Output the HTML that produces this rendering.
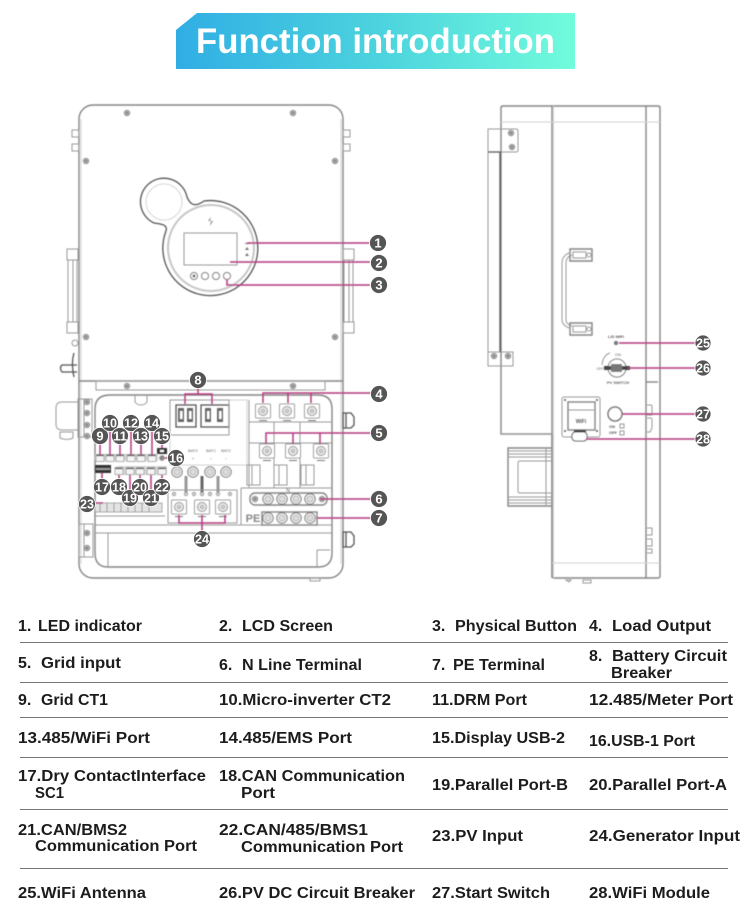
<!DOCTYPE html>
<html><head><meta charset="utf-8"><title>Function introduction</title>
<style>
html,body{margin:0;padding:0;background:#fff}
svg{display:block}
text{font-family:"Liberation Sans",sans-serif}
.t text{font-size:16px;font-weight:bold;fill:#1c1c1c}
.g{fill:none;stroke:#9a9a9a;stroke-width:1}
.l{fill:none;stroke:#858585;stroke-width:1.4}
.k{fill:none;stroke:#555;stroke-width:1.3}
.d{fill:none;stroke:#d0d0d0;stroke-width:1}
.p{fill:none;stroke:#b5387f;stroke-width:1.5}
.b circle{fill:#555;stroke:#fff;stroke-width:.8}
.b text{fill:#fff;font-size:13px;font-weight:bold;text-anchor:middle}
.m text{fill:#666;font-size:4px;text-anchor:middle}
</style></head><body>
<svg width="750" height="905" viewBox="0 0 750 905" xmlns="http://www.w3.org/2000/svg">
<defs>
<linearGradient id="h" x1="0" x2="1" y1="0" y2="0"><stop offset="0" stop-color="#30aee4"/><stop offset=".5" stop-color="#4bd2de"/><stop offset="1" stop-color="#71fcdc"/></linearGradient>
<filter id="s" x="-2%" y="-2%" width="104%" height="104%"><feGaussianBlur stdDeviation=".5"/></filter>
<g id="bolt"><circle r="2.8" fill="#aaa" stroke="#888" stroke-width=".7"/><circle r="1" fill="#777"/></g>
<g id="lug"><rect x="-7.5" y="-7" width="15" height="14" rx="1" fill="#fff" stroke="#999"/><circle r="4.500" fill="#eee" stroke="#888"/><circle r="2" fill="#ccc" stroke="#999" stroke-width=".5"/><path d="M-4 9.500H4" stroke="#777" stroke-width="1"/></g>
<g id="term"><circle r="5.200" fill="#f2f2f2" stroke="#777"/><circle r="3" fill="#ddd" stroke="#999" stroke-width=".6"/></g>
<g id="port"><rect x="-4" y="-3.500" width="8" height="7" fill="#f4f4f4" stroke="#999" stroke-width=".8"/><path d="M-3.500-2.500H3.500" stroke="#444" stroke-width="1.200"/></g>
</defs>

<polygon points="197,13 575,13 575,69 176,69 176,30" fill="url(#h)"/>
<text x="196" y="53" font-size="35" font-weight="bold" fill="#fff" textLength="359" lengthAdjust="spacingAndGlyphs">Function introduction</text>

<g filter="url(#s)">
<!-- FRONT VIEW -->
<rect x="79" y="105" width="264" height="473" rx="14" fill="#fff" class="l"/>
<path class="d" d="M81 119V564M341 119V564"/>
<path class="l" d="M79 381H343"/>
<rect class="g" x="96" y="381" width="229" height="9"/>
<use href="#bolt" x="127" y="113"/><use href="#bolt" x="293" y="113"/>
<use href="#bolt" x="86" y="161"/><use href="#bolt" x="335" y="161"/>
<use href="#bolt" x="86" y="337"/><use href="#bolt" x="335" y="337"/>
<use href="#bolt" x="127" y="386"/><use href="#bolt" x="293" y="386"/>
<path class="g" d="M72 130h7v7h-7zM72 144h7v7h-7zM343 130h7v7h-7zM343 144h7v7h-7z"/>
<!-- side handles -->
<path class="g" d="M67 249h11v11h-11zM67 322h11v11h-11zM68 260v62M73 260v62M77 260v62"/>
<path class="g" d="M343 249h11v11h-11zM343 322h11v11h-11zM344 260v62M349 260v62M353 260v62"/>
<path class="k" d="M77 365H62q-3 3 0 7H77M74 353q-3 10 0 24"/>
<circle class="g" cx="75" cy="343" r="3"/>
<!-- display housing -->
<path class="k" fill="#fff" d="M187 197 C191 207 197 206 204 201 A47.500 47.500 0 1 1 166 231 C168 224 160 224 154 223 A23.500 23.500 0 1 1 187 197Z"/>
<circle cx="211" cy="248" r="43" fill="none" stroke="#c6c6c6" stroke-width="2"/>
<circle cx="164" cy="202" r="18" fill="none" stroke="#aaa" stroke-width=".8" stroke-dasharray="1.500 1"/>
<rect class="g" x="184" y="233" width="53" height="32"/>
<path d="M211 217l-3 4h3l-1 5 3-5h-3z" fill="#888"/>
<g fill="#fff" stroke="#777"><circle cx="194" cy="276" r="3.500"/><circle cx="205" cy="276" r="3.500"/><circle cx="216" cy="276" r="3.500"/><circle cx="227" cy="276" r="3.500"/></g>
<circle cx="194" cy="276" r="1.500" fill="#666"/>
<path d="M245 243h4v1h-4zM245 250l2-3 2 3zM245 256l2-3 2 3z" fill="#777"/>

<!-- LOWER PANEL -->
<path class="l" d="M110 395H318Q332 395 332 409V553Q332 567 318 567H108Q95 567 95 553V409Q95 395 110 395Z"/>
<path class="g" d="M78 402H62q-6 0-6 6V424q0 6 6 6H78M60 432h13v6q-6 3-13 0zM78 399h14v38h-14zM84 399v38"/>
<use href="#bolt" x="87" y="402"/><use href="#bolt" x="87" y="413"/><use href="#bolt" x="87" y="425"/><use href="#bolt" x="87" y="436"/>
<path class="g" d="M79 524h14v33h-14zM84 524v33"/>
<use href="#bolt" x="87" y="533"/><use href="#bolt" x="87" y="548"/>
<path class="k" d="M343 413h8l3 4v8l-3 3h-8zM343 532h8l3 4v8l-3 3h-8zM346 413v15M346 532v15"/>
<path class="g" d="M95 525H332M95 533H332M108 533V567M317 550h13M317 550v17"/>
<rect class="g" x="310" y="578" width="10" height="3"/>
<path class="g" d="M135 395v7q2 3 6 3t6-3v-7"/>
<!-- battery breakers -->
<rect x="170" y="400" width="77" height="65" fill="#fff" class="d"/>
<rect class="k" x="176" y="405" width="20" height="22"/><rect class="k" x="201" y="405" width="28" height="22"/>
<path class="g" d="M170 400H229V435H170z"/>
<g fill="#666"><rect x="178" y="408" width="6" height="14"/><rect x="187" y="408" width="6" height="14"/><rect x="205" y="408" width="6" height="14"/><rect x="217" y="408" width="6" height="14"/></g>
<g fill="#fff"><rect x="180" y="411" width="2.500" height="8"/><rect x="189" y="411" width="2.500" height="8"/><rect x="207" y="411" width="2.500" height="8"/><rect x="219" y="411" width="2.500" height="8"/></g>
<g class="m"><text x="193" y="452">BAT2</text><text x="211" y="452">BAT1</text><text x="226" y="452">BAT2</text><text x="193" y="460" font-size="8">+</text><text x="211" y="460" font-size="8">−</text><text x="226" y="460" font-size="8">−</text></g>
<!-- load & grid sections -->
<path class="g" d="M249 400V488M249 422H332M249 443H332M274 422v66M300 422v66M247 465h13v20h-13zM274 465h13v20h-13zM301 465h13v20h-13zM252 465v20M279 465v20M306 465v20"/>
<use href="#lug" x="263" y="411"/><use href="#lug" x="287" y="411"/><use href="#lug" x="312" y="411"/>
<use href="#lug" x="267" y="451"/><use href="#lug" x="293" y="451"/><use href="#lug" x="321" y="451"/>
<!-- N / PE -->
<path class="g" d="M241 488H332M241 488V525"/>
<rect class="l" x="250" y="493" width="77" height="12" rx="5"/>
<rect class="l" x="262" y="512" width="55" height="13"/>
<use href="#bolt" x="255" y="499"/><use href="#bolt" x="322" y="499"/>
<use href="#term" x="268" y="499"/><use href="#term" x="282" y="499"/><use href="#term" x="296" y="499"/><use href="#term" x="310" y="499"/>
<use href="#term" x="268" y="518"/><use href="#term" x="282" y="518"/><use href="#term" x="296" y="518"/><use href="#term" x="310" y="518"/>
<text x="253" y="522" font-size="11" font-weight="bold" fill="#888" text-anchor="middle">PE</text>
<text x="288" y="492" font-size="5" fill="#666" text-anchor="middle">N</text>
<!-- generator -->
<use href="#term" x="177" y="472"/><use href="#term" x="193" y="472"/><use href="#term" x="210" y="472"/><use href="#term" x="226" y="472"/>
<path d="M186 476v17M218 476v17" stroke="#999" stroke-width="3" fill="none"/>
<path d="M202 476v17" stroke="#666" stroke-width="3" fill="none"/>
<rect class="g" x="168" y="490" width="69" height="33"/>
<g fill="#ccc" stroke="#888" stroke-width=".6"><circle cx="174" cy="494" r="1.800"/><circle cx="186" cy="494" r="1.800"/><circle cx="194" cy="494" r="1.800"/><circle cx="202" cy="494" r="1.800"/><circle cx="210" cy="494" r="1.800"/><circle cx="218" cy="494" r="1.800"/><circle cx="230" cy="494" r="1.800"/></g>
<use href="#lug" x="179" y="507"/><use href="#lug" x="202" y="507"/><use href="#lug" x="223" y="507"/>
<!-- ports -->
<rect x="95" y="454" width="63" height="7" fill="#d8d8d8"/>
<rect x="117" y="466" width="50" height="9" fill="#d8d8d8"/>
<use href="#port" x="100" y="458"/><use href="#port" x="110" y="458"/><use href="#port" x="120" y="458"/><use href="#port" x="131" y="458"/><use href="#port" x="141" y="458"/><use href="#port" x="152" y="458"/>
<use href="#port" x="119" y="471"/><use href="#port" x="130" y="471"/><use href="#port" x="140" y="471"/><use href="#port" x="151" y="471"/><use href="#port" x="162" y="471"/>
<rect x="95" y="465" width="16" height="8" fill="#333"/><rect x="96" y="468" width="14" height="2" fill="#999"/>
<rect x="95" y="503" width="67" height="9" fill="#e4e4e4" stroke="#888" stroke-width=".7"/>
<path class="g" d="M100 503v9M107 503v9M114 503v9M121 503v9M128 503v9M135 503v9M142 503v9M149 503v9M95 516H165"/>
<rect x="157" y="448" width="10" height="6" fill="#333"/>
<rect x="160" y="450" width="4" height="2" fill="#fff"/>
<circle cx="162" cy="458" r="2.800" fill="#888"/>

<!-- SIDE VIEW -->
<path class="l" d="M501 434V108q0-2 2-2H658q2 0 2 2V576q0 2-2 2H554q-2 0-2-2V434Z"/>
<path class="l" d="M552 106V578M646 106V578"/>
<path class="d" d="M553.500 106V578M501 122H660M552 563H660"/>
<path class="g" d="M501 434h51"/>
<path class="g" d="M501 129H488V366H513V352H501M501 129h15q2 0 2 2v19q0 2-2 2H488M488 352h13"/>
<path class="k" d="M500 152V352M488 152h13"/>
<use href="#bolt" x="511" y="133"/><use href="#bolt" x="512" y="147"/><use href="#bolt" x="494" y="356"/><use href="#bolt" x="508" y="356"/>
<!-- side handle -->
<path class="g" d="M569 253q-7 3-7 10V320q0 5 7 8M572 255q-6 2-6 8V320q0 4 6 6"/>
<path class="l" d="M570 249h22v12h-22zM570 323h22v12h-22z"/>
<path class="g" d="M573 252h13v6h-13zM573 326h13v6h-13z"/>
<circle class="g" cx="589" cy="255" r="2"/><circle class="g" cx="589" cy="329" r="2"/>
<!-- block -->
<path class="l" d="M552 448H508V506H552"/>
<path class="g" d="M508 451H552M508 454H552M508 457H552M508 497H552M508 500H552M508 503H552M552 461H520q-2 0-2 2V491q0 2 2 2H552M546 448v58"/>
<!-- clips -->
<path class="l" d="M646 382h12"/>
<path class="g" d="M647 405h4q1 0 1 2v8h-5M647 418h4q1 0 1 2v8l-2 4h-3M647 528h5v7h-5M647 539h5v7h-5M647 549h5v4h-5"/>
<!-- controls -->
<text x="616" y="338" font-size="4" fill="#555" text-anchor="middle" font-weight="bold">L/D WiFi</text>
<circle cx="616" cy="343" r="1.700" fill="#888" stroke="#555" stroke-width=".6"/>
<path class="g" d="M602 365q1-10 8-12"/>
<circle cx="617" cy="368" r="9" fill="#fff" stroke="#777"/>
<rect x="604" y="366" width="26" height="4" fill="#444"/>
<rect x="611" y="364" width="11" height="8" fill="#777"/>
<text x="618" y="356" font-size="4" fill="#666" text-anchor="middle">ON</text>
<text x="600" y="370" font-size="3.500" fill="#666" text-anchor="middle">OFF</text>
<text x="618" y="384" font-size="4" fill="#666" text-anchor="middle" font-weight="bold">PV SWITCH</text>
<rect class="g" x="562" y="397" width="38" height="40" rx="2"/>
<rect class="l" x="568" y="402" width="27" height="28"/>
<path class="g" d="M568 410H595"/>
<circle cx="565" cy="400" r="1" fill="#555"/><circle cx="597" cy="400" r="1" fill="#555"/><circle cx="565" cy="431" r="1" fill="#555"/><circle cx="597" cy="431" r="1" fill="#555"/>
<text x="581" y="423" font-size="5" font-weight="bold" fill="#555" text-anchor="middle">WiFi</text>
<rect x="572" y="432" width="15" height="9" rx="3.500" fill="#fff" stroke="#555"/>
<path d="M574 431h12" stroke="#333" stroke-width="1.500"/>
<circle cx="615" cy="414" r="7" fill="#fff" stroke="#777" stroke-width="1.500"/>
<text x="612" y="428" font-size="4" fill="#555" text-anchor="middle" font-weight="bold">ON</text>
<text x="613" y="434" font-size="4" fill="#555" text-anchor="middle" font-weight="bold">OFF</text>
<path class="g" d="M620 424h4v4h-4zM620 431h4v4h-4z"/>
<path class="g" d="M566 580h5l-2 2zM583 580h8v3h-8z"/>

<!-- CONNECTORS -->
<path class="p" d="M247 243H370M230 262H370M227 279v6H370"/>
<path class="p" d="M263 403V393H372M288 403V393M311 403V393"/>
<path class="p" d="M266 444V433H372M293 444V433M320 444V433"/>
<path class="p" d="M320 499H372M317 518H372"/>
<path class="p" d="M185 404V394H212V404M198 386V394"/>
<path class="p" d="M100 442V455M110 429V455M120 442V455M131 429V455M141 442V455M152 429V455M162 442V448"/>
<path class="p" d="M165 458H170M102 473V481M119 475V481M130 475V492M140 475V481M151 475V492M162 475V481M93 503H103"/>
<path class="p" d="M179 515V523H225V515M202 515V523M202 523V532"/>
<path class="p" d="M619 343H696M628 368H696M622 414H696M586 439H696"/>
</g>

<!-- BADGES -->
<g class="b">
<g transform="translate(378 243)"><circle r="8.500"/><text y="4.500">1</text></g>
<g transform="translate(379 263)"><circle r="8.500"/><text y="4.500">2</text></g>
<g transform="translate(379 285)"><circle r="8.500"/><text y="4.500">3</text></g>
<g transform="translate(379 394)"><circle r="8.500"/><text y="4.500">4</text></g>
<g transform="translate(379 433)"><circle r="8.500"/><text y="4.500">5</text></g>
<g transform="translate(379 499)"><circle r="8.500"/><text y="4.500">6</text></g>
<g transform="translate(379 518)"><circle r="8.500"/><text y="4.500">7</text></g>
<g transform="translate(198 380)"><circle r="8.500"/><text y="4.500">8</text></g>
<g transform="translate(100 436)"><circle r="8.500"/><text y="4.500">9</text></g>
<g transform="translate(110 423)"><circle r="8.500"/><text y="4.500" textLength="14" lengthAdjust="spacingAndGlyphs">10</text></g>
<g transform="translate(120 436)"><circle r="8.500"/><text y="4.500" textLength="14" lengthAdjust="spacingAndGlyphs">11</text></g>
<g transform="translate(131 423)"><circle r="8.500"/><text y="4.500" textLength="14" lengthAdjust="spacingAndGlyphs">12</text></g>
<g transform="translate(141 436)"><circle r="8.500"/><text y="4.500" textLength="14" lengthAdjust="spacingAndGlyphs">13</text></g>
<g transform="translate(152 423)"><circle r="8.500"/><text y="4.500" textLength="14" lengthAdjust="spacingAndGlyphs">14</text></g>
<g transform="translate(162 436)"><circle r="8.500"/><text y="4.500" textLength="14" lengthAdjust="spacingAndGlyphs">15</text></g>
<g transform="translate(176 458)"><circle r="8.500"/><text y="4.500" textLength="14" lengthAdjust="spacingAndGlyphs">16</text></g>
<g transform="translate(102 487)"><circle r="8.500"/><text y="4.500" textLength="14" lengthAdjust="spacingAndGlyphs">17</text></g>
<g transform="translate(119 487)"><circle r="8.500"/><text y="4.500" textLength="14" lengthAdjust="spacingAndGlyphs">18</text></g>
<g transform="translate(130 498)"><circle r="8.500"/><text y="4.500" textLength="14" lengthAdjust="spacingAndGlyphs">19</text></g>
<g transform="translate(140 487)"><circle r="8.500"/><text y="4.500" textLength="14" lengthAdjust="spacingAndGlyphs">20</text></g>
<g transform="translate(151 498)"><circle r="8.500"/><text y="4.500" textLength="14" lengthAdjust="spacingAndGlyphs">21</text></g>
<g transform="translate(162 487)"><circle r="8.500"/><text y="4.500" textLength="14" lengthAdjust="spacingAndGlyphs">22</text></g>
<g transform="translate(87 504)"><circle r="8.500"/><text y="4.500" textLength="14" lengthAdjust="spacingAndGlyphs">23</text></g>
<g transform="translate(202 539)"><circle r="8.500"/><text y="4.500" textLength="14" lengthAdjust="spacingAndGlyphs">24</text></g>
<g transform="translate(703 343)"><circle r="8"/><text y="4.500" textLength="14" lengthAdjust="spacingAndGlyphs">25</text></g>
<g transform="translate(703 368)"><circle r="8"/><text y="4.500" textLength="14" lengthAdjust="spacingAndGlyphs">26</text></g>
<g transform="translate(703 414)"><circle r="8"/><text y="4.500" textLength="14" lengthAdjust="spacingAndGlyphs">27</text></g>
<g transform="translate(703 439)"><circle r="8"/><text y="4.500" textLength="14" lengthAdjust="spacingAndGlyphs">28</text></g>
</g>

<!-- TABLE -->
<path d="M20 642.500H728M20 682.500H728M20 717.500H728M20 757.500H728M20 809.500H728M20 868.500H728" stroke="#777" fill="none"/>
<g class="t">
<text x="18" y="631">1.</text><text x="38" y="631" textLength="104" lengthAdjust="spacingAndGlyphs">LED indicator</text>
<text x="219" y="631">2.</text><text x="242" y="631" textLength="91" lengthAdjust="spacingAndGlyphs">LCD Screen</text>
<text x="432" y="631">3.</text><text x="455" y="631" textLength="122" lengthAdjust="spacingAndGlyphs">Physical Button</text>
<text x="589" y="631">4.</text><text x="612" y="631" textLength="99" lengthAdjust="spacingAndGlyphs">Load Output</text>
<text x="18" y="668">5.</text><text x="41" y="668" textLength="80" lengthAdjust="spacingAndGlyphs">Grid input</text>
<text x="219" y="670">6.</text><text x="242" y="670" textLength="120" lengthAdjust="spacingAndGlyphs">N Line Terminal</text>
<text x="432" y="670">7.</text><text x="453" y="670" textLength="92" lengthAdjust="spacingAndGlyphs">PE Terminal</text>
<text x="589" y="661">8.</text><text x="612" y="661" textLength="115" lengthAdjust="spacingAndGlyphs">Battery Circuit</text>
<text x="611" y="678" textLength="61" lengthAdjust="spacingAndGlyphs">Breaker</text>
<text x="18" y="705">9.</text><text x="41" y="705" textLength="67" lengthAdjust="spacingAndGlyphs">Grid CT1</text>
<text x="219" y="705" textLength="172" lengthAdjust="spacingAndGlyphs">10.Micro-inverter CT2</text>
<text x="432" y="705" textLength="95" lengthAdjust="spacingAndGlyphs">11.DRM Port</text>
<text x="589" y="705" textLength="144" lengthAdjust="spacingAndGlyphs">12.485/Meter Port</text>
<text x="18" y="743" textLength="132" lengthAdjust="spacingAndGlyphs">13.485/WiFi Port</text>
<text x="219" y="743" textLength="133" lengthAdjust="spacingAndGlyphs">14.485/EMS Port</text>
<text x="432" y="743" textLength="133" lengthAdjust="spacingAndGlyphs">15.Display USB-2</text>
<text x="589" y="746" textLength="106" lengthAdjust="spacingAndGlyphs">16.USB-1 Port</text>
<text x="18" y="781" textLength="188" lengthAdjust="spacingAndGlyphs">17.Dry ContactInterface</text>
<text x="35" y="798" textLength="29" lengthAdjust="spacingAndGlyphs">SC1</text>
<text x="219" y="781" textLength="186" lengthAdjust="spacingAndGlyphs">18.CAN Communication</text>
<text x="241" y="798" textLength="34" lengthAdjust="spacingAndGlyphs">Port</text>
<text x="432" y="790" textLength="136" lengthAdjust="spacingAndGlyphs">19.Parallel Port-B</text>
<text x="589" y="790" textLength="138" lengthAdjust="spacingAndGlyphs">20.Parallel Port-A</text>
<text x="18" y="835" textLength="109" lengthAdjust="spacingAndGlyphs">21.CAN/BMS2</text>
<text x="35" y="851" textLength="162" lengthAdjust="spacingAndGlyphs">Communication Port</text>
<text x="219" y="835" textLength="149" lengthAdjust="spacingAndGlyphs">22.CAN/485/BMS1</text>
<text x="241" y="852" textLength="162" lengthAdjust="spacingAndGlyphs">Communication Port</text>
<text x="432" y="841" textLength="91" lengthAdjust="spacingAndGlyphs">23.PV Input</text>
<text x="589" y="841" textLength="151" lengthAdjust="spacingAndGlyphs">24.Generator Input</text>
<text x="18" y="898" textLength="128" lengthAdjust="spacingAndGlyphs">25.WiFi Antenna</text>
<text x="219" y="898" textLength="196" lengthAdjust="spacingAndGlyphs">26.PV DC Circuit Breaker</text>
<text x="432" y="898" textLength="118" lengthAdjust="spacingAndGlyphs">27.Start Switch</text>
<text x="589" y="898" textLength="121" lengthAdjust="spacingAndGlyphs">28.WiFi Module</text>
</g>
</svg>
</body></html>
